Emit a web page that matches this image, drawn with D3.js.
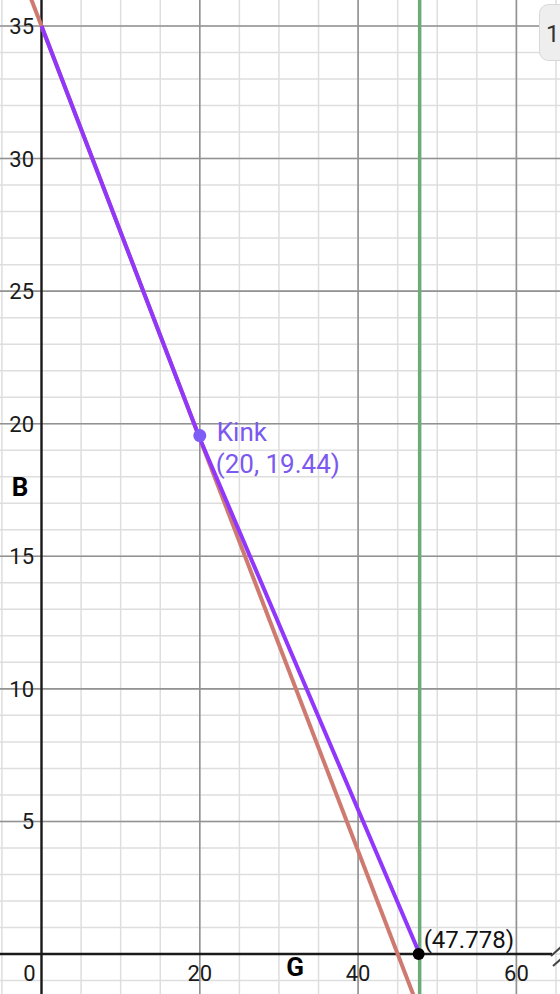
<!DOCTYPE html>
<html>
<head>
<meta charset="utf-8">
<script src="https://d3js.org/d3.v7.min.js"></script>
<style>
  body { margin: 0; background: #fff; }
  svg { display: block; font-family: Roboto, "Noto Sans", sans-serif; }
</style>
</head>
<body>
<div id="chart"></div>
<script>
var width = 560;
var height = 994;

// data
var xTicks = [0, 20, 40, 60];
var yTicks = [5, 10, 15, 20, 25, 30, 35];
var redLine = [[-6, 39.6667], [48, -2.3333]];        // B = 35 - 7/9 G
var purpleLine = [[0, 35], [20, 19.44], [47.778, 0]]; // kinked budget line
var greenX = [47.778];
var kinkPoint = [{ g: 20, b: 19.44, name: "Kink", label: "(20, 19.44)" }];
var endPoint = [{ g: 47.778, b: 0, label: "(47.778)" }];

var x = d3.scaleLinear().domain([0, 60]).range([41.5, 516.4]);
var y = d3.scaleLinear().domain([0, 35]).range([954, 26]);

var svg = d3.select("#chart").append("svg")
    .attr("width", width)
    .attr("height", height);

var xMin = x.invert(0), xMax = x.invert(width);
var yMin = y.invert(height), yMax = y.invert(0);

// minor grid
var minorX = d3.range(Math.ceil(xMin / 5) * 5, xMax, 5);
var minorY = d3.range(Math.ceil(yMin), yMax, 1);
var grid = svg.append("g");
grid.selectAll(".mx").data(minorX).enter().append("line")
    .attr("x1", d => x(d)).attr("x2", d => x(d))
    .attr("y1", 0).attr("y2", height)
    .attr("stroke", "#dedede").attr("stroke-width", 1.5);
grid.selectAll(".my").data(minorY).enter().append("line")
    .attr("y1", d => y(d)).attr("y2", d => y(d))
    .attr("x1", 0).attr("x2", width)
    .attr("stroke", "#dedede").attr("stroke-width", 1.5);

// major grid
var majorX = d3.range(Math.ceil(xMin / 20) * 20, xMax, 20).filter(d => d !== 0);
var majorY = d3.range(Math.ceil(yMin / 5) * 5, yMax, 5).filter(d => d !== 0);
grid.selectAll(".Mx").data(majorX).enter().append("line")
    .attr("x1", d => x(d)).attr("x2", d => x(d))
    .attr("y1", 0).attr("y2", height)
    .attr("stroke", "#929292").attr("stroke-width", 1.6);
grid.selectAll(".My").data(majorY).enter().append("line")
    .attr("y1", d => y(d)).attr("y2", d => y(d))
    .attr("x1", 0).attr("x2", width)
    .attr("stroke", "#929292").attr("stroke-width", 1.6);

// axes
svg.append("line")
    .attr("x1", x(0)).attr("x2", x(0)).attr("y1", 0).attr("y2", height)
    .attr("stroke", "#1a1a1a").attr("stroke-width", 2.4);
svg.append("line")
    .attr("x1", 0).attr("x2", 552).attr("y1", y(0)).attr("y2", y(0))
    .attr("stroke", "#1a1a1a").attr("stroke-width", 2.4);
// arrow bits at the right edge
svg.append("line").attr("x1", 551).attr("y1", 956).attr("x2", 561).attr("y2", 947)
    .attr("stroke", "#444").attr("stroke-width", 2);
svg.append("line").attr("x1", 553).attr("y1", 966).attr("x2", 561).attr("y2", 959)
    .attr("stroke", "#444").attr("stroke-width", 2);

// tick labels
svg.selectAll(".xt").data(xTicks).enter().append("text")
    .attr("x", d => d === 0 ? x(0) - 12 : x(d))
    .attr("y", 981)
    .attr("text-anchor", "middle")
    .attr("font-size", 22)
    .attr("fill", "#1a1a1a")
    .text(d => d);
svg.selectAll(".yt").data(yTicks).enter().append("text")
    .attr("x", 34)
    .attr("y", d => y(d) + 8)
    .attr("text-anchor", "end")
    .attr("font-size", 22)
    .attr("fill", "#1a1a1a")
    .text(d => d);

// axis names
svg.append("text").attr("x", 20).attr("y", 496).attr("text-anchor", "middle")
    .attr("font-size", 26).attr("font-weight", "bold").attr("fill", "#000").text("B");
svg.append("text").attr("x", 295).attr("y", 976).attr("text-anchor", "middle")
    .attr("font-size", 26).attr("font-weight", "bold").attr("fill", "#000").text("G");

var line = d3.line().x(d => x(d[0])).y(d => y(d[1]));

// green vertical
svg.selectAll(".green").data(greenX).enter().append("line")
    .attr("x1", d => x(d)).attr("x2", d => x(d))
    .attr("y1", 0).attr("y2", height)
    .attr("stroke", "#6aab78").attr("stroke-width", 3.5);

// red line
svg.append("path").datum(redLine)
    .attr("d", line)
    .attr("fill", "none")
    .attr("stroke", "#cf7a70")
    .attr("stroke-width", 4);

// purple line
svg.append("path").datum(purpleLine)
    .attr("d", line)
    .attr("fill", "none")
    .attr("stroke", "#9137fb")
    .attr("stroke-width", 4)
    .attr("stroke-linejoin", "round");

// points
svg.selectAll(".kink").data(kinkPoint).enter().append("circle")
    .attr("cx", d => x(d.g)).attr("cy", d => y(d.b) - 3)
    .attr("r", 6.5)
    .attr("fill", "#7e5cf6");
svg.selectAll(".kname").data(kinkPoint).enter().append("text")
    .attr("x", d => x(d.g) + 17).attr("y", d => y(d.b) + 2)
    .attr("font-size", 26).attr("fill", "#7b58ef").text(d => d.name);
svg.selectAll(".klab").data(kinkPoint).enter().append("text")
    .attr("x", d => x(d.g) + 16).attr("y", d => y(d.b) + 34)
    .attr("font-size", 26).attr("fill", "#7b58ef").text(d => d.label);

svg.selectAll(".end").data(endPoint).enter().append("circle")
    .attr("cx", d => x(d.g) - 1).attr("cy", d => y(d.b))
    .attr("r", 6)
    .attr("fill", "#000");
svg.selectAll(".elab").data(endPoint).enter().append("text")
    .attr("x", d => x(d.g) + 4).attr("y", d => y(d.b) - 6)
    .attr("font-size", 24).attr("fill", "#111").text(d => d.label);

// top-right button (cut off)
var btn = svg.append("g");
btn.append("rect")
    .attr("x", 539.5).attr("y", 4.5).attr("width", 40).attr("height", 56).attr("rx", 9)
    .attr("fill", "#eeeeee").attr("stroke", "#d8d8d8");
btn.append("text").attr("x", 546).attr("y", 42).attr("font-size", 24).attr("fill", "#333").text("1");
</script>
</body>
</html>
